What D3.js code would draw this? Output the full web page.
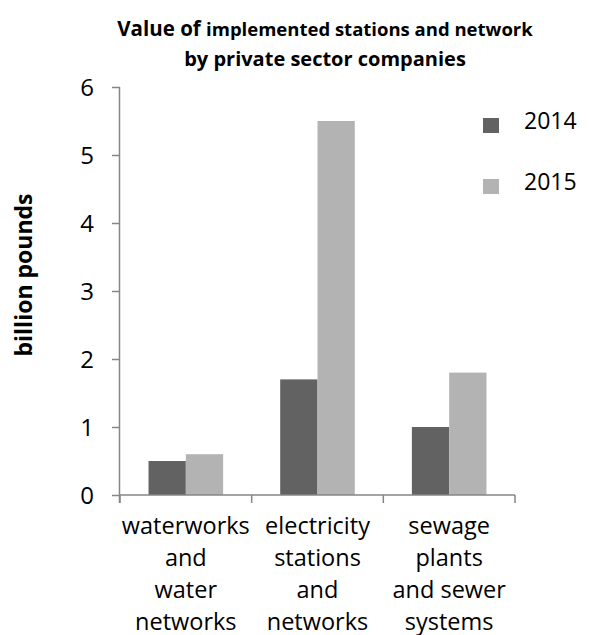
<!DOCTYPE html>
<html><head><meta charset="utf-8">
<script src="https://cdn.jsdelivr.net/npm/d3@7"></script>
<style>body{margin:0;background:#fff}svg{display:block}text{font-family:"Open Sans",sans-serif;fill:#000}</style>
</head><body>
<script>
const categories = [["waterworks","and","water","networks"],["electricity","stations","and","networks"],["sewage","plants","and sewer","systems"]];
const categoryKeys = ["waterworks","electricity","sewage"];
const seriesNames = ["2014","2015"];
const values2014 = [0.5, 1.7, 1.0];
const values2015 = [0.6, 5.5, 1.8];
const yTicks = [0,1,2,3,4,5,6];
const colors = ["#626262","#b3b3b3"];

const W=589,H=635;
const svg=d3.select("body").append("svg").attr("width",W).attr("height",H);
const x=d3.scaleBand().domain(categoryKeys).range([120,515]).paddingInner(0).paddingOuter(0);
const xs=d3.scaleBand().domain(seriesNames).range([0,x.bandwidth()]).paddingInner(0).paddingOuter(0.765);
const y=d3.scaleLinear().domain([0,6]).range([495,87]);
const axisColor="#868686";

// bars
const data=categoryKeys.map((k,i)=>({k,vals:[values2014[i],values2015[i]]}));
const g=svg.append("g");
data.forEach(d=>{
  d.vals.forEach((v,j)=>{
    g.append("rect").attr("x",x(d.k)+xs(seriesNames[j])).attr("width",xs.bandwidth())
     .attr("y",y(v)).attr("height",y(0)-y(v)).attr("fill",colors[j]);
  });
});

// y axis
const ya=svg.append("g").attr("transform","translate(120,0)").call(d3.axisLeft(y).tickValues(yTicks).tickSize(8).tickPadding(18).tickFormat(d3.format("d")));
ya.select(".domain").attr("stroke",axisColor).attr("stroke-width",1.5).attr("d","M-0.5,87V503");
ya.selectAll(".tick line").attr("stroke",axisColor).attr("stroke-width",1.5);
ya.selectAll(".tick text").attr("font-size",24).attr("font-family","Open Sans").attr("fill","#000").attr("dy","0.36em");

// x axis
const xa=svg.append("g").attr("transform","translate(0,495)");
xa.append("line").attr("x1",120).attr("x2",515).attr("y1",0).attr("y2",0).attr("stroke",axisColor).attr("stroke-width",1.5);
const bounds=categoryKeys.map(k=>x(k)).concat([x.range()[1]]);
bounds.forEach(b=>xa.append("line").attr("x1",b).attr("x2",b).attr("y1",0).attr("y2",8).attr("stroke",axisColor).attr("stroke-width",1.5));
categories.forEach((lines,i)=>{
  const cx=x(categoryKeys[i])+x.bandwidth()/2;
  const t=svg.append("text").attr("text-anchor","middle").attr("font-size",23.5);
  lines.forEach((l,j)=>t.append("tspan").attr("x",cx).attr("y",534+j*32).text(l));
});

// title
const title=svg.append("text").attr("text-anchor","middle").attr("font-weight","bold");
const t1=title.append("tspan").attr("x",325).attr("y",36);
t1.append("tspan").attr("font-size",20.5).text("Value of ");
t1.append("tspan").attr("font-size",18.5).text("implemented stations and network");
title.append("tspan").attr("x",325).attr("y",66).attr("font-size",20).text("by private sector companies");

// y label
svg.append("text").attr("transform","translate(32,275) rotate(-90)").attr("text-anchor","middle")
  .attr("font-weight","bold").attr("font-size",23).text("billion pounds");

// legend
const leg=svg.append("g");
seriesNames.forEach((s,i)=>{
  const yy=118+i*61;
  leg.append("rect").attr("x",483).attr("y",yy).attr("width",16).attr("height",15).attr("fill",colors[i]);
  leg.append("text").attr("x",524).attr("y",yy+11).attr("font-size",23).text(s);
});
</script>
</body></html>
